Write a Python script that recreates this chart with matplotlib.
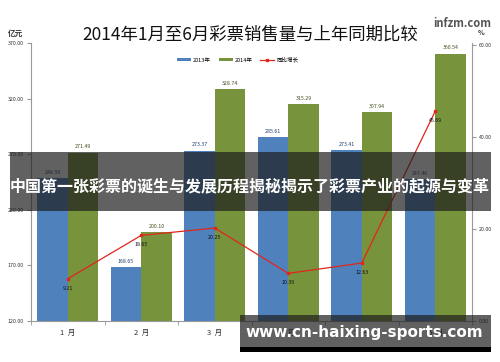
import matplotlib.pyplot as plt
import numpy as np
from matplotlib.patches import Rectangle

plt.rcParams['font.family'] = ['Noto Sans CJK SC', 'DejaVu Sans']

months = ["1  月", "2  月", "3  月", "4  月", "5  月", "6  月"]
sales_2013 = [248.59, 168.65, 273.37, 285.61, 273.41, 247.46]
sales_2014 = [271.49, 200.10, 328.74, 315.29, 307.94, 360.54]
growth = [9.21, 18.65, 20.25, 10.39, 12.63, 45.69]

c13 = "#4F81BD"
c14 = "#77933C"
cline = "#E0261B"

fig = plt.figure(figsize=(5, 3.62), dpi=100)
ax = fig.add_axes([0.062, 0.113, 0.882, 0.768])
x = np.arange(len(months))
w = 0.415

ax.bar(x - w / 2, np.array(sales_2013) - 120, w, bottom=120, color=c13, label="2013年")
ax.bar(x + w / 2, np.array(sales_2014) - 120, w, bottom=120, color=c14, label="2014年")
for i in range(len(months)):
    ax.text(x[i] - w / 2, sales_2013[i] + 3, "%.2f" % sales_2013[i], ha="center", va="bottom",
            fontsize=3.8, color="#1F3E6E")
    ax.text(x[i] + w / 2, sales_2014[i] + 3, "%.2f" % sales_2014[i], ha="center", va="bottom",
            fontsize=3.8, color="#3F4F1E")

ax.set_xlim(-0.5, 5.5)
ax.set_ylim(120, 370)
ax.set_yticks(np.arange(120, 371, 50))
ax.set_yticklabels(["%.2f" % v for v in np.arange(120, 371, 50)], fontsize=3.8, color="#333333")
ax.set_xticks(x)
ax.set_xticklabels(months, fontsize=5.5, color="#333333")
ax.set_xticks(np.arange(-0.5, 5.6, 1), minor=True)
ax.tick_params(axis="x", which="major", length=0, pad=6)
ax.tick_params(axis="x", which="minor", length=3, color="#999999")
ax.tick_params(axis="y", length=3, color="#999999", pad=2)
for s in ["top", "right"]:
    ax.spines[s].set_visible(False)
for s in ["left", "bottom"]:
    ax.spines[s].set_color("#999999")
    ax.spines[s].set_linewidth(0.8)

ax2 = ax.twinx()
ax2.plot(x, growth, color=cline, lw=0.9, marker="s", ms=2, label="同比增长")
for i in range(len(months)):
    ax2.text(x[i], growth[i] - 1.5, "%.2f" % growth[i], ha="center", va="top", fontsize=3.8, color="#111111")
ax2.set_ylim(0, 60.5)
ax2.set_yticks([0, 20, 40, 60])
ax2.set_yticklabels(["0.00", "20.00", "40.00", "60.00"], fontsize=3.8, color="#333333")
ax2.tick_params(axis="y", length=3, color="#999999", pad=2)
for s in ["top", "left", "bottom"]:
    ax2.spines[s].set_visible(False)
ax2.spines["right"].set_color("#999999")
ax2.spines["right"].set_linewidth(0.8)

h1, l1 = ax.get_legend_handles_labels()
h2, l2 = ax2.get_legend_handles_labels()
fig.legend(h1 + h2, l1 + l2, loc="center", bbox_to_anchor=(0.475, 0.834), ncol=3, fontsize=4,
           frameon=False, handlelength=2.5, handleheight=0.5, columnspacing=1.5, handletextpad=0.3)

fig.text(0.5, 0.903, "2014年1月至6月彩票销售量与上年同期比较", ha="center", va="center", fontsize=12.5,
         color="#111111")
fig.text(0.032, 0.909, "亿元", ha="center", va="center", fontsize=5.5, color="#333333", weight="bold")
fig.text(0.962, 0.909, "%", ha="center", va="center", fontsize=5, color="#333333", weight="bold")
fig.text(0.924, 0.934, "infzm.com", ha="center", va="center", fontsize=8, color="#555555", weight="bold")

# overlay banners
fig.add_artist(Rectangle((0.02, 1 - 211 / 362), 0.962, 59 / 362, transform=fig.transFigure,
                         facecolor="#1e1e1e", alpha=0.7, edgecolor="none"))
fig.text(0.5, 1 - 186 / 362, "中国第一张彩票的诞生与发展历程揭秘揭示了彩票产业的起源与变革", ha="center",
         va="center", fontsize=11.5, color="white", weight="bold")
fig.add_artist(Rectangle((0.48, 1 - 347 / 362), 0.502, 32 / 362, transform=fig.transFigure,
                         facecolor="#1e1e1e", alpha=0.7, edgecolor="none"))
fig.add_artist(Rectangle((0.48, 1 - 352 / 362), 0.502, 5 / 362, transform=fig.transFigure,
                         facecolor="black", edgecolor="none"))
fig.text(0.728, 1 - 332 / 362, "www.cn-haixing-sports.com", ha="center", va="center", fontsize=11,
         color="white", weight="bold", family="DejaVu Sans")

fig.savefig("out.png", dpi=100)
